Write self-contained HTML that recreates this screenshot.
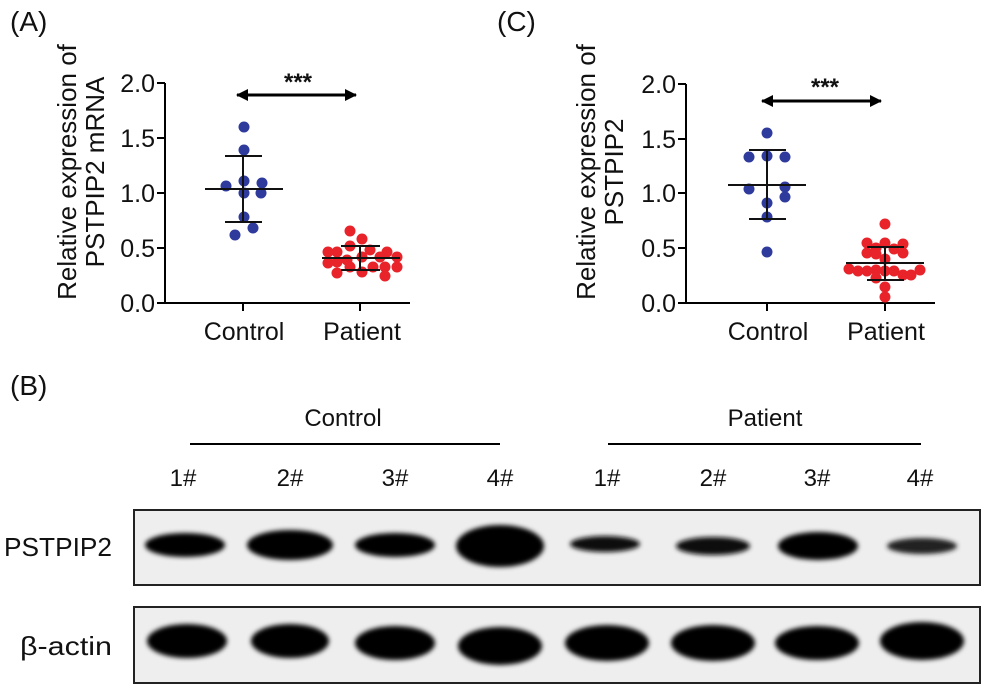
<!DOCTYPE html>
<html><head><meta charset="utf-8"><style>
html,body{margin:0;padding:0;background:#fff;width:984px;height:690px;overflow:hidden}
svg{display:block}
text{font-family:"Liberation Sans",Arial,sans-serif;fill:#111}
</style></head><body>
<svg width="984" height="690" viewBox="0 0 984 690" xmlns="http://www.w3.org/2000/svg">
<defs>
<filter id="blur" x="-20%" y="-50%" width="140%" height="200%"><feGaussianBlur stdDeviation="2.5"/></filter>
<marker id="ah" markerWidth="12" markerHeight="12" refX="11" refY="6" orient="auto" markerUnits="userSpaceOnUse"><path d="M0,0 L12,6 L0,12 Z" fill="#000"/></marker>
</defs>
<text x="10" y="31" font-size="28">(A)</text>
<text x="497" y="31" font-size="28">(C)</text>
<text x="10" y="395" font-size="28">(B)</text>

<!-- Chart A -->
<g>
<text transform="translate(76,172) rotate(-90)" font-size="26" text-anchor="middle">Relative expression of</text>
<text transform="translate(104,172) rotate(-90)" font-size="26" text-anchor="middle">PSTPIP2 mRNA</text>
<path d="M165,83 V303 H410" fill="none" stroke="#000" stroke-width="2"/>
<g stroke="#000" stroke-width="2">
<line x1="157" y1="83" x2="165" y2="83"/><line x1="157" y1="138" x2="165" y2="138"/><line x1="157" y1="193" x2="165" y2="193"/><line x1="157" y1="248" x2="165" y2="248"/><line x1="157" y1="303" x2="165" y2="303"/>
<line x1="243" y1="303" x2="243" y2="311"/><line x1="360" y1="303" x2="360" y2="311"/>
</g>
<g font-size="25" text-anchor="end">
<text x="155" y="92">2.0</text><text x="155" y="147">1.5</text><text x="155" y="202">1.0</text><text x="155" y="257">0.5</text><text x="155" y="312">0.0</text>
</g>
<g font-size="25" text-anchor="middle"><text x="244" y="340">Control</text><text x="362" y="340">Patient</text></g>
<line x1="250" y1="95" x2="356" y2="95" stroke="#000" stroke-width="3" marker-end="url(#ah)"/>
<line x1="350" y1="95" x2="237" y2="95" stroke="#000" stroke-width="3" marker-end="url(#ah)"/>
<text x="298" y="90" font-size="24" font-weight="bold" text-anchor="middle">***</text>
<g fill="#2e3a9c">
<circle cx="244" cy="127" r="5.5"/><circle cx="244" cy="150" r="5.5"/><circle cx="226" cy="186" r="5.5"/><circle cx="244" cy="181" r="5.5"/><circle cx="262" cy="183" r="5.5"/><circle cx="244" cy="193" r="5.5"/><circle cx="261" cy="193" r="5.5"/><circle cx="244" cy="217" r="5.5"/><circle cx="253" cy="228" r="5.5"/><circle cx="235" cy="235" r="5.5"/>
</g>
<g fill="#e8232a">
<circle cx="350" cy="231" r="5.5"/><circle cx="362" cy="239" r="5.5"/><circle cx="350" cy="246" r="5.5"/><circle cx="328" cy="252" r="5.5"/><circle cx="337" cy="252" r="5.5"/><circle cx="370" cy="250" r="5.5"/><circle cx="387" cy="252" r="5.5"/><circle cx="397" cy="257" r="5.5"/><circle cx="328" cy="263" r="5.5"/><circle cx="347" cy="260" r="5.5"/><circle cx="362" cy="257" r="5.5"/><circle cx="380" cy="257" r="5.5"/><circle cx="397" cy="267" r="5.5"/><circle cx="337" cy="273" r="5.5"/><circle cx="350" cy="267" r="5.5"/><circle cx="362" cy="272" r="5.5"/><circle cx="373" cy="267" r="5.5"/><circle cx="385" cy="267" r="5.5"/><circle cx="385" cy="276" r="5.5"/><circle cx="337" cy="262" r="5.5"/>
</g>
<g stroke="#111" stroke-width="2">
<line x1="205" y1="189" x2="283" y2="189"/><line x1="243" y1="156" x2="243" y2="222"/><line x1="225" y1="156" x2="262" y2="156"/><line x1="225" y1="222" x2="262" y2="222"/>
<line x1="322" y1="258" x2="400" y2="258"/><line x1="360" y1="246" x2="360" y2="270"/><line x1="341" y1="246" x2="380" y2="246"/><line x1="341" y1="270" x2="380" y2="270"/>
</g>
</g>

<!-- Chart C -->
<g>
<text transform="translate(595,172) rotate(-90)" font-size="26" text-anchor="middle">Relative expression of</text>
<text transform="translate(623,172) rotate(-90)" font-size="26" text-anchor="middle">PSTPIP2</text>
<path d="M686,84 V303 H935" fill="none" stroke="#000" stroke-width="2"/>
<g stroke="#000" stroke-width="2">
<line x1="678" y1="84" x2="686" y2="84"/><line x1="678" y1="139" x2="686" y2="139"/><line x1="678" y1="193" x2="686" y2="193"/><line x1="678" y1="248" x2="686" y2="248"/><line x1="678" y1="303" x2="686" y2="303"/>
<line x1="767" y1="303" x2="767" y2="311"/><line x1="885" y1="303" x2="885" y2="311"/>
</g>
<g font-size="25" text-anchor="end">
<text x="676" y="93">2.0</text><text x="676" y="148">1.5</text><text x="676" y="202">1.0</text><text x="676" y="257">0.5</text><text x="676" y="312">0.0</text>
</g>
<g font-size="25" text-anchor="middle"><text x="768" y="340">Control</text><text x="886" y="340">Patient</text></g>
<line x1="775" y1="101" x2="881" y2="101" stroke="#000" stroke-width="3" marker-end="url(#ah)"/>
<line x1="875" y1="101" x2="762" y2="101" stroke="#000" stroke-width="3" marker-end="url(#ah)"/>
<text x="825" y="95" font-size="24" font-weight="bold" text-anchor="middle">***</text>
<g fill="#2e3a9c">
<circle cx="767" cy="133" r="5.5"/><circle cx="749" cy="157" r="5.5"/><circle cx="767" cy="156" r="5.5"/><circle cx="785" cy="157" r="5.5"/><circle cx="749" cy="189" r="5.5"/><circle cx="785" cy="187" r="5.5"/><circle cx="785" cy="197" r="5.5"/><circle cx="767" cy="203" r="5.5"/><circle cx="767" cy="217" r="5.5"/><circle cx="767" cy="252" r="5.5"/>
</g>
<g fill="#e8232a">
<circle cx="885" cy="224" r="5.5"/><circle cx="867" cy="243" r="5.5"/><circle cx="885" cy="243" r="5.5"/><circle cx="903" cy="244" r="5.5"/><circle cx="867" cy="253" r="5.5"/><circle cx="876" cy="248" r="5.5"/><circle cx="894" cy="249" r="5.5"/><circle cx="903" cy="253" r="5.5"/><circle cx="876" cy="254" r="5.5"/><circle cx="885" cy="259" r="5.5"/><circle cx="849" cy="269" r="5.5"/><circle cx="858" cy="271" r="5.5"/><circle cx="867" cy="271" r="5.5"/><circle cx="876" cy="270" r="5.5"/><circle cx="885" cy="271" r="5.5"/><circle cx="894" cy="271" r="5.5"/><circle cx="903" cy="275" r="5.5"/><circle cx="911" cy="275" r="5.5"/><circle cx="920" cy="270" r="5.5"/><circle cx="876" cy="278" r="5.5"/><circle cx="885" cy="287" r="5.5"/><circle cx="885" cy="297" r="5.5"/>
</g>
<g stroke="#111" stroke-width="2">
<line x1="728" y1="185" x2="806" y2="185"/><line x1="767" y1="150" x2="767" y2="219"/><line x1="749" y1="150" x2="786" y2="150"/><line x1="749" y1="219" x2="786" y2="219"/>
<line x1="846" y1="263" x2="924" y2="263"/><line x1="885" y1="247" x2="885" y2="280"/><line x1="867" y1="247" x2="904" y2="247"/><line x1="867" y1="280" x2="904" y2="280"/>
</g>
</g>

<!-- Panel B -->
<g font-size="24" text-anchor="middle">
<text x="343" y="426">Control</text><text x="765" y="426">Patient</text>
<text x="183" y="486">1#</text><text x="290" y="486">2#</text><text x="395" y="486">3#</text><text x="500" y="486">4#</text>
<text x="607" y="486">1#</text><text x="713" y="486">2#</text><text x="817" y="486">3#</text><text x="920" y="486">4#</text>
</g>
<line x1="190" y1="444" x2="500" y2="444" stroke="#000" stroke-width="2"/>
<line x1="608" y1="444" x2="921" y2="444" stroke="#000" stroke-width="2"/>
<text x="4" y="556" font-size="26" textLength="108" lengthAdjust="spacingAndGlyphs">PSTPIP2</text>
<text x="20" y="655" font-size="26" textLength="92" lengthAdjust="spacingAndGlyphs">β-actin</text>

<rect x="134" y="510" width="846" height="75" fill="#eeeeee" stroke="#222" stroke-width="2"/>
<rect x="134" y="607" width="846" height="76" fill="#eeeeee" stroke="#222" stroke-width="2"/>
<g fill="#000" filter="url(#blur)">
<ellipse cx="185" cy="545" rx="40" ry="12"/>
<ellipse cx="290" cy="545" rx="43" ry="15"/>
<ellipse cx="395" cy="545" rx="40" ry="12"/>
<ellipse cx="500" cy="546" rx="44" ry="21"/>
<ellipse cx="605" cy="544" rx="35" ry="8" fill="#111"/>
<ellipse cx="713" cy="546" rx="37" ry="9" fill="#111"/>
<ellipse cx="818" cy="546" rx="40" ry="14"/>
<ellipse cx="922" cy="546" rx="35" ry="8" fill="#222"/>
<ellipse cx="187" cy="641" rx="40" ry="17"/>
<ellipse cx="290" cy="641" rx="39" ry="17"/>
<ellipse cx="395" cy="643" rx="40" ry="17"/>
<ellipse cx="500" cy="646" rx="42" ry="19"/>
<ellipse cx="607" cy="643" rx="42" ry="18"/>
<ellipse cx="713" cy="643" rx="42" ry="18"/>
<ellipse cx="817" cy="643" rx="42" ry="17"/>
<ellipse cx="922" cy="641" rx="42" ry="19"/>
</g>
</svg>
</body></html>
